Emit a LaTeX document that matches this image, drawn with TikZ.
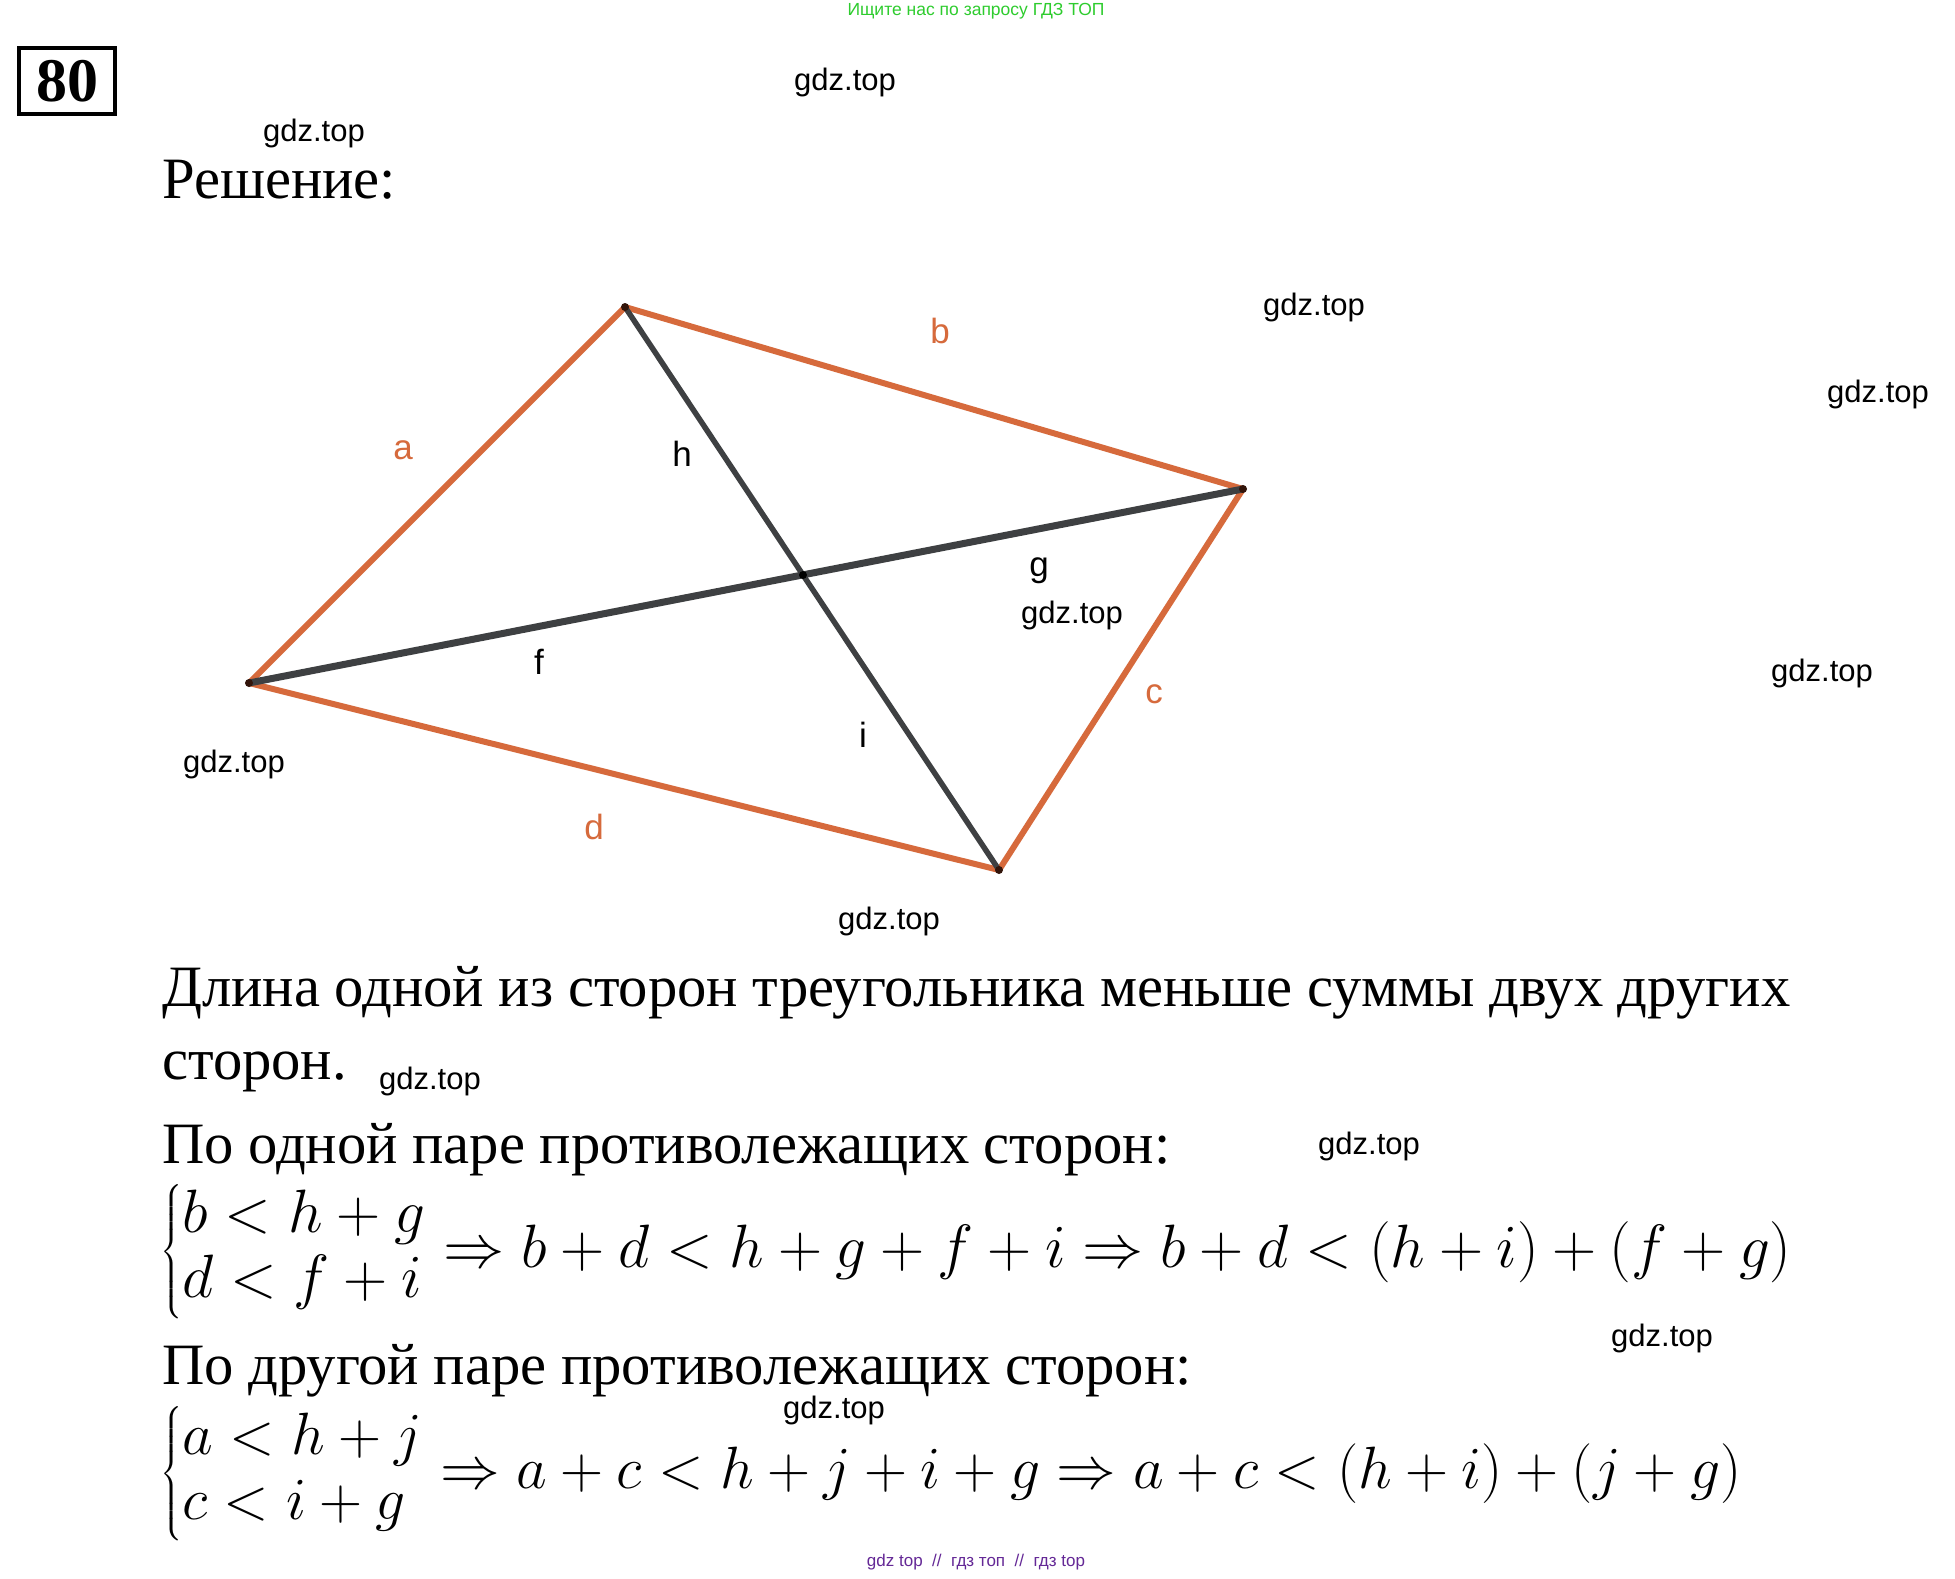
\documentclass[tikz,border=0pt]{standalone}
\usepackage{fix-cm}
\usepackage{amsmath}
\usepackage{fontspec}
\setmainfont{Liberation Serif}
\newfontfamily\lsans{Liberation Sans}
\definecolor{edgeor}{RGB}{214,106,60}
\definecolor{diagc}{RGB}{62,64,66}
\definecolor{hdrgreen}{RGB}{46,204,46}
\definecolor{ftpurple}{RGB}{100,40,150}
\definecolor{vdot}{RGB}{50,20,10}
\begin{document}
\begin{tikzpicture}[x=1pt,y=-1pt,
  side/.style={draw=edgeor, line width=6pt, line cap=round, line join=round},
  diagline/.style={draw=diagc, line width=6pt, line cap=round},
  wm/.style={font=\lsans\fontsize{31}{36}\selectfont, text=black, inner sep=0pt},
  sidelbl/.style={font=\lsans\fontsize{35}{40}\selectfont, text=edgeor, inner sep=0pt},
  diaglbl/.style={font=\lsans\fontsize{35}{40}\selectfont, text=black, inner sep=0pt},
  txt/.style={font=\fontsize{58.6}{68}\selectfont, anchor=base west, inner sep=0pt},
  mth/.style={anchor=west, inner sep=0pt},
]
\useasboundingbox (0,0) rectangle (1955,1579);
\fill[white] (0,0) rectangle (1955,1579);

% header / footer
\node[font=\lsans\fontsize{17.5}{20}\selectfont, text=hdrgreen, inner sep=0pt] (hdr) at (976,11) {Ищите нас по запросу ГДЗ ТОП};
\node[font=\lsans\fontsize{17}{20}\selectfont, text=ftpurple, inner sep=0pt] (ftr) at (976,1562) {gdz top \ // \ гдз топ \ // \ гдз top};

% problem number
\draw[line width=4pt] (19,48) rectangle (115,114);
\node[font=\bfseries\fontsize{62}{64}\selectfont, inner sep=0pt] (num) at (67,81) {80};

\node[txt] (sol) at (162,198) {Решение:};

% quadrilateral
\coordinate (A) at (625,307);
\coordinate (B) at (1243,489);
\coordinate (C) at (999,870);
\coordinate (D) at (249,683);
\draw[side] (A) -- (B) -- (C) -- (D) -- cycle;
\draw[diagline, line width=7pt] (D) -- (B);
\draw[diagline, line width=5.5pt] (A) -- (C);
\foreach \v in {A,B,C,D} \fill[vdot] (\v) circle (4);
\fill[black] (803,575) circle (4);

\node[sidelbl] (la) at (403,450) {a};
\node[sidelbl] (lb) at (940,331) {b};
\node[sidelbl] (lc) at (1154,694) {c};
\node[sidelbl] (ld) at (594,827) {d};
\node[diaglbl] (lh) at (682,454) {h};
\node[diaglbl] (lg) at (1039,571) {g};
\node[diaglbl] (lf) at (539,662) {f};
\node[diaglbl] (li) at (863,735) {i};

% watermarks
\node[wm] (w1) at (845,82) {gdz.top};
\node[wm] (w2) at (314,133) {gdz.top};
\node[wm] (w3) at (1314,307) {gdz.top};
\node[wm] (w4) at (1878,394) {gdz.top};
\node[wm] (w5) at (1072,615) {gdz.top};
\node[wm] (w6) at (1822,673) {gdz.top};
\node[wm] (w7) at (234,764) {gdz.top};
\node[wm] (w8) at (889,921) {gdz.top};
\node[wm] (w9) at (430,1081) {gdz.top};
\node[wm] (w10) at (1369,1146) {gdz.top};
\node[wm] (w11) at (1662,1338) {gdz.top};
\node[wm] (w12) at (834,1410) {gdz.top};

% text
\node[txt] (t1) at (162,1006) {Длина одной из сторон треугольника меньше суммы двух других};
\node[txt] (t2) at (162,1079) {сторон.};
\node[txt] (t3) at (162,1163) {По одной паре противолежащих сторон:};
\node[mth, font=\fontsize{61.2}{68}\selectfont] (m1) at (160,1252) {$\renewcommand{\arraystretch}{0.95}\left\{\begin{array}{@{}l@{}} b<h+g\\ d<f+i\end{array}\right.\Rightarrow b+d<h+g+f+i\Rightarrow b+d<(h+i)+(f+g)$};
\node[txt] (t4) at (162,1384) {По другой паре противолежащих сторон:};
\node[mth, font=\fontsize{59.7}{68}\selectfont] (m2) at (160,1474) {$\renewcommand{\arraystretch}{0.96}\left\{\begin{array}{@{}l@{}} a<h+j\\ c<i+g\end{array}\right.\Rightarrow a+c<h+j+i+g\Rightarrow a+c<(h+i)+(j+g)$};
\end{tikzpicture}
\end{document}
